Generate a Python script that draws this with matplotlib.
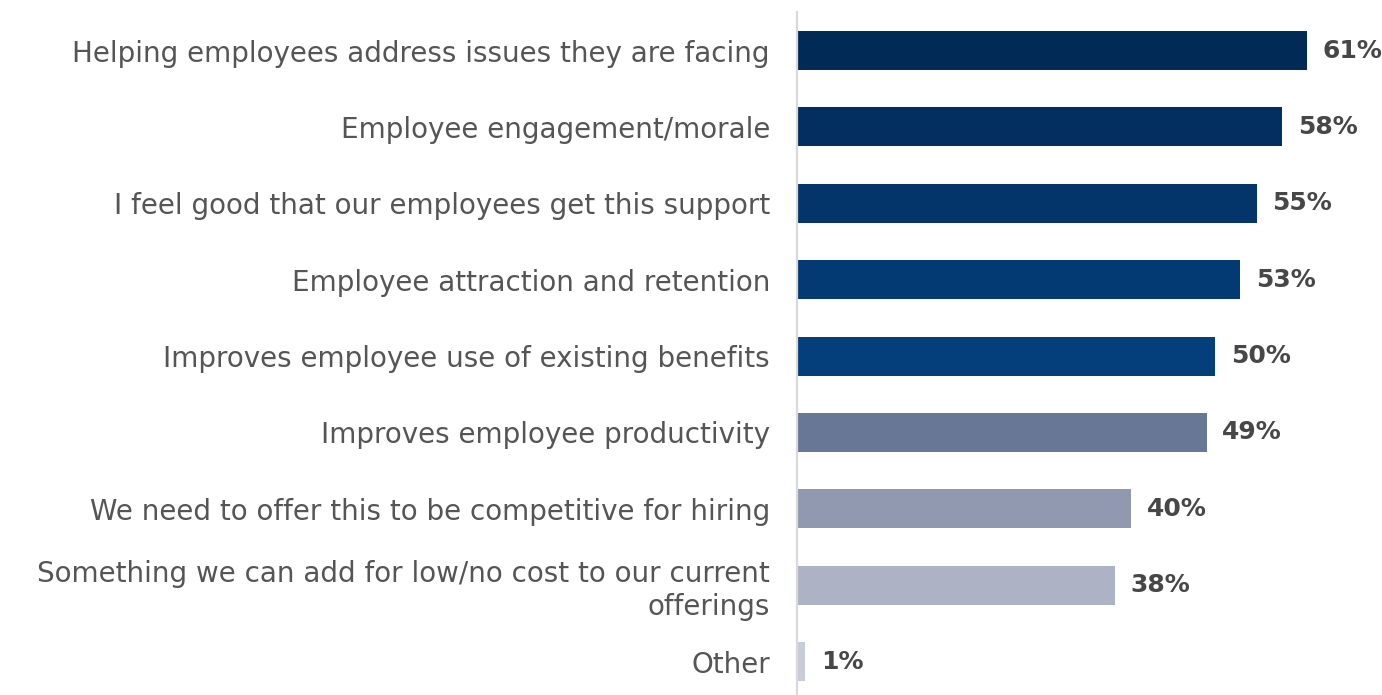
import matplotlib
matplotlib.use("Agg")
import matplotlib.pyplot as plt
from matplotlib.ticker import NullLocator

categories = [
    "Helping employees address issues they are facing",
    "Employee engagement/morale",
    "I feel good that our employees get this support",
    "Employee attraction and retention",
    "Improves employee use of existing benefits",
    "Improves employee productivity",
    "We need to offer this to be competitive for hiring",
    "Something we can add for low/no cost to our current\nofferings",
    "Other",
]
values = [61, 58, 55, 53, 50, 49, 40, 38, 1]
bar_colors = ["#022a57", "#022f60", "#03356b", "#033a73", "#043f7b",
              "#687795", "#9199b0", "#adb3c4", "#c8ccd8"]

W, H, DPI = 1382, 695, 100
fig = plt.figure(figsize=(W / DPI, H / DPI), dpi=DPI)
fig.patch.set_facecolor("white")

left_px, right_px, top_px, bottom_px = 797, 1382, 12, 695
ax = fig.add_axes([left_px / W, 1 - bottom_px / H,
                   (right_px - left_px) / W, (bottom_px - top_px) / H])

ypos = list(range(len(categories)))
ax.barh(ypos, values, height=0.51, color=bar_colors, left=0)

ax.set_xlim(0, 70)
ax.set_ylim(8.436, -0.504)

for y, v in zip(ypos, values):
    ax.text(v + 1.9, y, f"{v}%", va="center", ha="left",
            fontsize=18, fontweight="bold", color="#474747",
            family="DejaVu Sans")

ax.set_yticks(ypos)
ax.set_yticklabels(categories, fontsize=20, color="#555555",
                   family="DejaVu Sans", linespacing=1.2)
ax.tick_params(axis="y", length=0, pad=19.5)
ax.xaxis.set_major_locator(NullLocator())

for side in ["top", "right", "bottom"]:
    ax.spines[side].set_visible(False)
ax.spines["left"].set_color("#d9d9d9")
ax.spines["left"].set_linewidth(1.6)

fig.savefig("out.png", dpi=DPI, facecolor="white")
